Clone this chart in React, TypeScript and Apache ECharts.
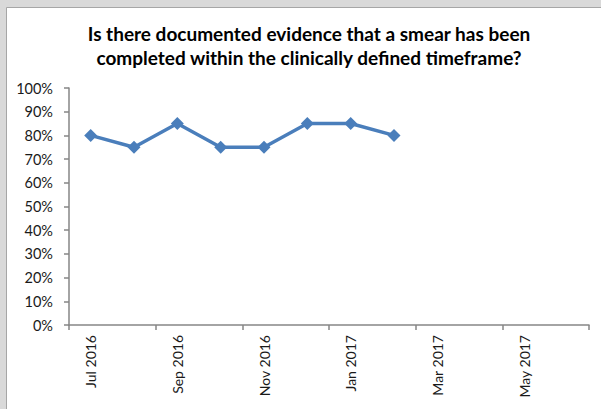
import React, { useEffect, useRef } from "react";
import * as echarts from "echarts";

const titleText = "Is there documented evidence that a smear has been\ncompleted within the clinically defined timeframe?";
const categories = [
  "Jul 2016", "Aug 2016", "Sep 2016", "Oct 2016", "Nov 2016", "Dec 2016",
  "Jan 2017", "Feb 2017", "Mar 2017", "Apr 2017", "May 2017", "Jun 2017",
];
const values: (number | null)[] = [80, 75, 85, 75, 75, 85, 85, 80, null, null, null, null];
const yMin = 0;
const yMax = 100;
const yStep = 10;

export default function App() {
  const ref = useRef<HTMLDivElement>(null);
  useEffect(() => {
    if (!ref.current) return;
    const chart = echarts.init(ref.current, null, { renderer: "svg" });
    const font = "Lato, 'Open Sans', sans-serif";
    chart.setOption({
      animation: false,
      backgroundColor: "#d9d9d9",
      graphic: [
        {
          type: "rect",
          shape: { x: 6.5, y: 7.5, width: 620, height: 420 },
          style: { fill: "#ffffff", stroke: "#a6a6a6", lineWidth: 1 },
          z: -10,
          silent: true,
        },
      ],
      title: {
        text: titleText,
        left: 304,
        textAlign: "center",
        top: 16,
        textStyle: {
          fontFamily: font,
          fontWeight: "bold",
          fontSize: 19,
          lineHeight: 24,
          color: "#000000",
        },
      },
      grid: { left: 69, top: 88, right: 12, bottom: 84 },
      xAxis: {
        type: "category",
        data: categories,
        boundaryGap: true,
        axisLine: { lineStyle: { color: "#868686", width: 1.5 } },
        axisTick: { show: true, interval: 1, length: 5, lineStyle: { color: "#868686", width: 1.5 } },
        axisLabel: {
          interval: 1,
          rotate: 90,
          margin: 10,
          fontFamily: font,
          fontSize: 14,
          color: "#1a1a1a",
        },
        splitLine: { show: false },
      },
      yAxis: {
        type: "value",
        min: yMin,
        max: yMax,
        interval: yStep,
        axisLine: { show: true, lineStyle: { color: "#868686", width: 1.5 } },
        axisTick: { show: true, length: 5, lineStyle: { color: "#868686", width: 1.5 } },
        axisLabel: {
          formatter: "{value}%",
          margin: 16,
          fontFamily: font,
          fontSize: 14.5,
          color: "#1a1a1a",
        },
        splitLine: { show: false },
      },
      series: [
        {
          type: "line",
          data: values,
          symbol: "diamond",
          symbolSize: 13,
          lineStyle: { color: "#4a7ebb", width: 3.5 },
          itemStyle: { color: "#4a7ebb" },
          connectNulls: false,
        },
      ],
    });
    return () => chart.dispose();
  }, []);
  return (
    <div
      ref={ref}
      style={{ position: "absolute", left: 0, top: 0, width: 601, height: 409 }}
    />
  );
}
